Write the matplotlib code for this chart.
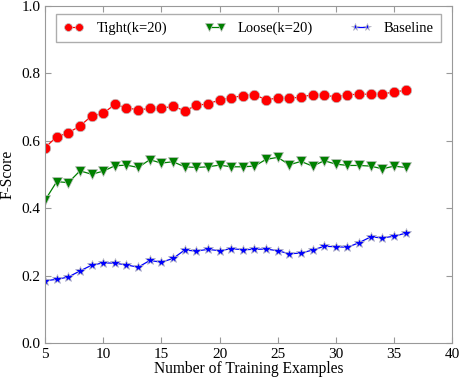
import matplotlib
matplotlib.use('Agg')
import matplotlib.pyplot as plt
import numpy as np

x = np.arange(5, 37)

tight = [0.580, 0.612, 0.624, 0.644, 0.674, 0.682, 0.708, 0.698, 0.692, 0.696,
         0.696, 0.703, 0.689, 0.705, 0.710, 0.721, 0.728, 0.734, 0.737, 0.722,
         0.727, 0.726, 0.730, 0.737, 0.735, 0.731, 0.736, 0.739, 0.738, 0.739,
         0.745, 0.750]
loose = [0.424, 0.479, 0.476, 0.511, 0.501, 0.510, 0.526, 0.528, 0.521, 0.544,
         0.534, 0.538, 0.523, 0.521, 0.523, 0.528, 0.523, 0.523, 0.525, 0.545,
         0.551, 0.529, 0.539, 0.525, 0.541, 0.531, 0.527, 0.527, 0.525, 0.517,
         0.525, 0.521]
baseline = [0.185, 0.189, 0.196, 0.214, 0.231, 0.238, 0.237, 0.232, 0.225, 0.245,
            0.240, 0.251, 0.276, 0.273, 0.278, 0.274, 0.280, 0.277, 0.278, 0.279,
            0.274, 0.265, 0.267, 0.276, 0.287, 0.286, 0.284, 0.298, 0.315, 0.312,
            0.317, 0.326]

plt.rcParams['font.family'] = 'Liberation Serif'
plt.rcParams['xtick.direction'] = 'in'
plt.rcParams['ytick.direction'] = 'in'

fig = plt.figure(figsize=(4.6, 3.77), dpi=100)
ax = fig.add_axes([0.098, 0.090, 0.885, 0.894])

ax.plot(x, tight, '-o', color='red', markersize=7.5, linewidth=0.9,
        markeredgecolor='0.75', markeredgewidth=0.5, label='Tight(k=20)')
ax.plot(x, loose, '-v', color='green', markersize=7.5, linewidth=0.9,
        markeredgecolor='0.75', markeredgewidth=0.5, label='Loose(k=20)')
ax.plot(x, baseline, '-*', color='blue', markersize=7.5, linewidth=0.9,
        markeredgecolor='0.75', markeredgewidth=0.5, label='Baseline')

ax.set_xlim(5, 40)
ax.set_ylim(0, 1.0)
ax.set_xticks(np.arange(5, 41, 5))
ax.set_yticks(np.arange(0, 1.01, 0.2))
ax.tick_params(top=True, right=True, labelsize=11, color='0.6', length=4)
for s in ax.spines.values():
    s.set_color('0.6')

ax.set_xlabel('Number of Training Examples', fontsize=11.2, labelpad=0)
ax.set_ylabel('F-Score', fontsize=11.2)

leg = ax.legend(loc='upper center', ncol=3, numpoints=2, fontsize=10.5,
                fancybox=False, borderaxespad=0.55, columnspacing=2.55,
                handlelength=1.4, handletextpad=0.9, markerscale=0.75,
                borderpad=0.5)
leg.get_frame().set_edgecolor('0.6')

fig.savefig('out.png', dpi=100)
